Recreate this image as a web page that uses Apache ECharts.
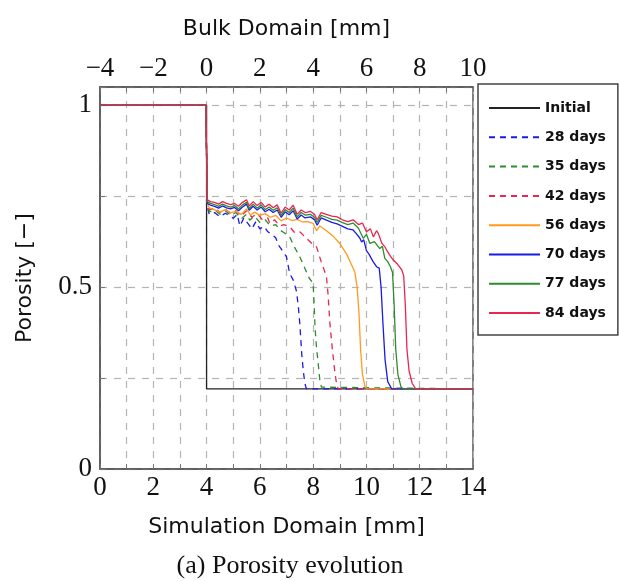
<!DOCTYPE html>
<html lang="en">
  <head>
    <meta charset="UTF-8" />
    <title>porosity evolution</title>
    <script src="https://cdn.jsdelivr.net/npm/echarts@6/dist/echarts.min.js"></script>
    <style>
      html, body { margin: 0; padding: 0; background: #fff; }
      #main { width: 619px; height: 581px; }
    </style>
  </head>
  <body>
    <div id="main"></div>
    <script>
      // [simulation domain mm, porosity]
      const initial = [[0, 1], [4, 1], [4, 0.22], [14, 0.22]];
      const d28 = [[0,1],[3.97,1],[4.03,0.72],[4.1,0.70],[4.3,0.705],[4.5,0.693],[4.7,0.703],[4.9,0.695],[5.0,0.689],[5.15,0.70],[5.25,0.668],[5.4,0.69],[5.55,0.675],[5.7,0.66],[5.85,0.68],[6.0,0.66],[6.15,0.667],[6.3,0.652],[6.45,0.645],[6.6,0.635],[6.7,0.615],[6.85,0.60],[7.0,0.583],[7.12,0.537],[7.25,0.52],[7.37,0.49],[7.44,0.45],[7.5,0.40],[7.57,0.318],[7.63,0.27],[7.69,0.235],[7.75,0.22],[14,0.22]];
      const d35 = [[0,1],[3.97,1],[4.03,0.73],[4.1,0.707],[4.3,0.712],[4.5,0.70],[4.7,0.71],[4.9,0.698],[5.1,0.705],[5.3,0.688],[5.5,0.70],[5.62,0.684],[5.8,0.695],[6.0,0.678],[6.2,0.685],[6.4,0.668],[6.6,0.672],[6.75,0.657],[6.9,0.65],[7.0,0.645],[7.12,0.638],[7.3,0.61],[7.5,0.583],[7.7,0.55],[7.85,0.525],[8.0,0.51],[8.04,0.45],[8.07,0.39],[8.13,0.33],[8.19,0.29],[8.25,0.245],[8.31,0.225],[8.38,0.22],[14,0.22]];
      const d42 = [[0,1],[3.97,1],[4.03,0.735],[4.1,0.712],[4.3,0.718],[4.5,0.705],[4.7,0.715],[4.9,0.703],[5.1,0.71],[5.3,0.695],[5.5,0.71],[5.7,0.692],[5.9,0.702],[6.1,0.685],[6.3,0.69],[6.37,0.675],[6.55,0.685],[6.75,0.668],[6.9,0.672],[7.12,0.666],[7.3,0.65],[7.5,0.652],[7.75,0.634],[7.95,0.62],[8.13,0.61],[8.3,0.57],[8.4,0.55],[8.5,0.528],[8.56,0.48],[8.63,0.40],[8.72,0.33],[8.82,0.263],[8.88,0.235],[8.94,0.22],[14,0.22]];
      const d56 = [[0,1],[3.97,1],[4.03,0.73],[4.1,0.718],[4.3,0.712],[4.5,0.706],[4.7,0.713],[4.9,0.705],[5.1,0.708],[5.3,0.70],[5.5,0.715],[5.65,0.698],[5.8,0.706],[6.0,0.697],[6.2,0.702],[6.4,0.692],[6.6,0.697],[6.8,0.682],[7.0,0.69],[7.2,0.683],[7.4,0.686],[7.6,0.679],[7.8,0.68],[8.0,0.675],[8.13,0.655],[8.25,0.668],[8.5,0.655],[8.75,0.64],[9.0,0.62],[9.26,0.59],[9.45,0.56],[9.57,0.54],[9.65,0.5],[9.72,0.43],[9.78,0.33],[9.85,0.26],[9.95,0.225],[10.05,0.22],[14,0.22]];
      const d70 = [[0,1],[3.97,1],[4.03,0.73],[4.15,0.725],[4.3,0.722],[4.45,0.717],[4.6,0.723],[4.75,0.718],[4.9,0.715],[5.05,0.719],[5.2,0.71],[5.35,0.72],[5.5,0.728],[5.6,0.711],[5.75,0.722],[5.9,0.712],[6.05,0.72],[6.2,0.707],[6.35,0.714],[6.5,0.705],[6.65,0.712],[6.8,0.692],[6.95,0.707],[7.1,0.699],[7.25,0.71],[7.4,0.687],[7.55,0.698],[7.7,0.69],[7.9,0.693],[8.05,0.685],[8.15,0.67],[8.3,0.69],[8.5,0.684],[8.7,0.678],[8.9,0.674],[9.1,0.667],[9.3,0.66],[9.5,0.657],[9.62,0.647],[9.75,0.635],[9.82,0.624],[9.9,0.63],[10.0,0.60],[10.1,0.59],[10.25,0.57],[10.38,0.556],[10.48,0.552],[10.55,0.5],[10.62,0.4],[10.7,0.3],[10.8,0.24],[10.95,0.22],[14,0.22]];
      const d77 = [[0,1],[3.97,1],[4.03,0.735],[4.15,0.73],[4.3,0.727],[4.45,0.722],[4.6,0.728],[4.75,0.723],[4.9,0.72],[5.05,0.724],[5.2,0.715],[5.35,0.726],[5.5,0.733],[5.6,0.716],[5.75,0.728],[5.9,0.717],[6.05,0.726],[6.2,0.713],[6.35,0.72],[6.5,0.711],[6.65,0.718],[6.8,0.697],[6.95,0.713],[7.1,0.705],[7.25,0.717],[7.4,0.693],[7.55,0.705],[7.7,0.698],[7.9,0.70],[8.05,0.692],[8.15,0.678],[8.3,0.697],[8.5,0.692],[8.7,0.686],[8.9,0.684],[9.1,0.677],[9.3,0.672],[9.5,0.676],[9.7,0.662],[9.88,0.634],[10.0,0.645],[10.13,0.62],[10.3,0.625],[10.5,0.606],[10.6,0.612],[10.69,0.579],[10.8,0.57],[10.9,0.556],[10.98,0.54],[11.04,0.45],[11.1,0.33],[11.18,0.26],[11.3,0.225],[11.4,0.22],[14,0.22]];
      const d84 = [[0,1],[3.97,1],[4.03,0.74],[4.15,0.735],[4.3,0.733],[4.45,0.728],[4.6,0.735],[4.75,0.73],[4.9,0.727],[5.05,0.73],[5.2,0.722],[5.35,0.733],[5.5,0.74],[5.6,0.723],[5.75,0.735],[5.9,0.724],[6.05,0.733],[6.2,0.72],[6.35,0.728],[6.5,0.718],[6.65,0.726],[6.8,0.703],[6.95,0.72],[7.1,0.712],[7.25,0.725],[7.4,0.7],[7.55,0.712],[7.7,0.705],[7.9,0.708],[8.05,0.7],[8.15,0.685],[8.3,0.705],[8.5,0.7],[8.7,0.695],[8.9,0.693],[9.1,0.685],[9.3,0.68],[9.5,0.685],[9.7,0.672],[9.85,0.676],[10.0,0.652],[10.15,0.66],[10.26,0.638],[10.38,0.655],[10.45,0.647],[10.58,0.62],[10.7,0.61],[10.77,0.6],[10.9,0.585],[11.0,0.575],[11.14,0.565],[11.33,0.547],[11.4,0.53],[11.46,0.45],[11.52,0.33],[11.6,0.27],[11.72,0.235],[11.85,0.22],[14,0.22]];

      const names = ['Initial', '28 days', '35 days', '42 days', '56 days', '70 days', '77 days', '84 days'];
      const datasets = [initial, d28, d35, d42, d56, d70, d77, d84];
      const colors = ['#222222', '#1a1ae6', '#2e8b2e', '#e8264f', '#ff9a1f', '#1a1ae6', '#2e8b2e', '#e8264f'];
      const dashed = [false, true, true, true, false, false, false, false];

      const bottomTicks = [0, 2, 4, 6, 8, 10, 12, 14];
      const topTicks = [-4, -2, 0, 2, 4, 6, 8, 10];
      const yTicks = [0, 0.5, 1];

      const serif = 'Liberation Serif';
      const sans = 'DejaVu Sans';
      const gridDash = { color: '#b4b4b4', width: 1.2, type: [7, 7] };
      const nameStyle = { fontFamily: sans, fontSize: 22, color: '#111' };

      var chart = echarts.init(document.getElementById('main'));
      var option = {
        animation: false,
        backgroundColor: '#fff',
        grid: {
          left: 100, right: 146, top: 87, bottom: 112,
          show: true, borderColor: '#555', borderWidth: 1.5
        },
        legend: {
          orient: 'vertical',
          left: 478, top: 84,
          padding: [17, 12, 15, 10],
          itemWidth: 51, itemHeight: 14, itemGap: 15.3,
          backgroundColor: '#fff',
          borderColor: '#444', borderWidth: 1.5,
          itemStyle: { opacity: 0 },
          textStyle: { fontFamily: sans, fontWeight: 'bold', fontSize: 14, color: '#111' },
          data: names
        },
        xAxis: [
          {
            type: 'value', min: 0, max: 14, interval: 1, position: 'bottom',
            axisLine: { lineStyle: { color: '#555', width: 1.5 } },
            axisTick: { inside: true, length: 5, lineStyle: { color: '#777' } },
            axisLabel: {
              fontFamily: serif, fontSize: 27, color: '#111', margin: 5,
              formatter: v => bottomTicks.includes(v) ? String(v) : ''
            },
            splitLine: { show: true, lineStyle: gridDash },
            name: 'Simulation Domain [mm]', nameLocation: 'middle', nameGap: 47,
            nameTextStyle: nameStyle
          },
          {
            type: 'value', min: -4, max: 10, interval: 1, position: 'top',
            axisLine: { lineStyle: { color: '#555', width: 1.5 } },
            axisTick: { inside: true, length: 5, lineStyle: { color: '#777' } },
            axisLabel: {
              fontFamily: serif, fontSize: 27, color: '#111', margin: 5,
              formatter: v => topTicks.includes(v) ? String(v).replace('-', '\u2212') : ''
            },
            splitLine: { show: false },
            name: 'Bulk Domain [mm]', nameLocation: 'middle', nameGap: 47,
            nameTextStyle: nameStyle
          }
        ],
        yAxis: {
          type: 'value', min: 0, max: 1.05, interval: 0.25,
          axisLine: { show: true, lineStyle: { color: '#555', width: 1.5 } },
          axisTick: { show: true, inside: true, length: 5, lineStyle: { color: '#777' } },
          axisLabel: {
            fontFamily: serif, fontSize: 27, color: '#111', margin: 8,
            formatter: v => yTicks.includes(v) ? String(v) : ''
          },
          splitLine: { show: true, lineStyle: gridDash },
          name: 'Porosity [\u2212]', nameLocation: 'middle', nameGap: 64,
          nameTextStyle: nameStyle
        },
        graphic: [
          {
            type: 'text', x: 290, y: 566,
            style: {
              text: '(a) Porosity evolution', font: '26px "Liberation Serif"', fill: '#111',
              textAlign: 'center', textVerticalAlign: 'middle'
            }
          }
        ],
        series: datasets.map((d, i) => ({
          name: names[i],
          type: 'line',
          xAxisIndex: 0,
          data: d,
          symbol: 'none',
          color: colors[i],
          lineStyle: { color: colors[i], width: 1.3, type: dashed[i] ? [6, 5] : 'solid' }
        }))
      };
      chart.setOption(option);
    </script>
  </body>
</html>
